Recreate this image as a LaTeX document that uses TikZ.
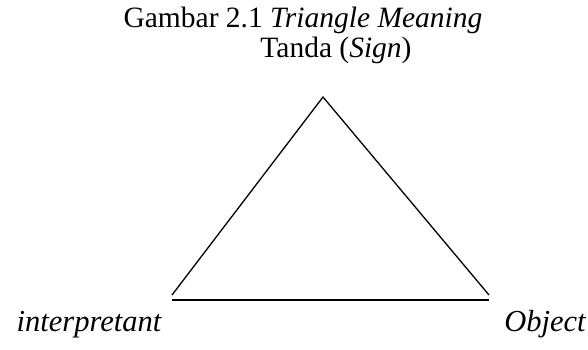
\documentclass[tikz,border=0pt]{standalone}
\usepackage{fontspec}
\setmainfont{Liberation Serif}
\usetikzlibrary{positioning}

\begin{document}
\begin{tikzpicture}[
    x=1pt, y=-1pt,
    caption/.style={font=\fontsize{29.5}{35}\selectfont, anchor=base, inner sep=0pt},
    corner/.style={font=\fontsize{30.5}{36}\selectfont\itshape, anchor=base, inner sep=0pt},
    side/.style={line width=1.3pt, black},
]
\useasboundingbox (0,0) rectangle (588,349);

% Title and top label
\node[caption] (title) at (303,27) {Gambar 2.1 \textit{Triangle Meaning}};
\node[caption] (sign) at (336,57) {Tanda (\textit{Sign})};

% Triangle corners
\coordinate (apex) at (323,97);
\coordinate (leftend) at (172,295);
\coordinate (rightend) at (489,295);
\coordinate (baseL) at (172,300);
\coordinate (baseR) at (489,300);

\draw[side] (leftend) -- (apex) -- (rightend);
\draw[side] (baseL) -- (baseR);

% Corner labels
\node[corner] (interp) at (89,331) {interpretant};
\node[corner] (object) at (545,331) {Object};
\end{tikzpicture}
\end{document}
